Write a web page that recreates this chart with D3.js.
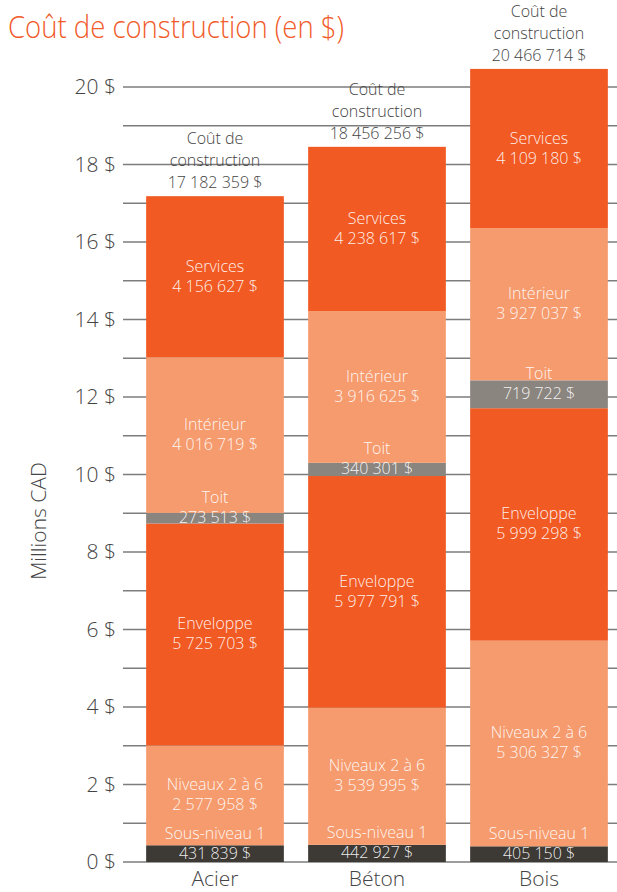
<!DOCTYPE html>
<html>
<head>
<meta charset="utf-8">
<script src="https://cdn.jsdelivr.net/npm/d3@7"></script>
<style>
  html, body { margin: 0; padding: 0; background: #fff; }
  svg { display: block; font-family: "Open Sans", "Noto Sans", sans-serif; }
  .seg-label { fill: #fff; fill-opacity: 0.92; font-size: 16px; font-weight: 300; }
  .top-label { fill: #444; font-size: 16px; font-weight: 300; }
  .tick-label { fill: #444; font-size: 21px; font-weight: 300; }
</style>
</head>
<body>
<div id="chart" style="width:617px;height:892px"></div>
<script>
// Data
const categories = ['Acier', 'Béton', 'Bois'];
const components = ['Sous-niveau 1', 'Niveaux 2 à 6', 'Enveloppe', 'Toit', 'Intérieur', 'Services'];
const acier = [431839, 2577958, 5725703, 273513, 4016719, 4156627];
const beton = [442927, 3539995, 5977791, 340301, 3916625, 4238617];
const bois = [405150, 5306327, 5999298, 719722, 3927037, 4109180];
const totals = [17182359, 18456256, 20466714];
const yTicks = [0, 2, 4, 6, 8, 10, 12, 14, 16, 18, 20];
const gridValues = d3.range(0, 21);
const compColors = ['#3d3935', '#f69b6e', '#f15a22', '#8b8580', '#f69b6e', '#f15a22'];

const values = [acier, beton, bois];
const fmt = n => d3.format(',')(n).replace(/,/g, ' ') + ' $';

const svg = d3.select('#chart').append('svg')
    .attr('width', 617)
    .attr('height', 892);

// Scales
const x = d3.scaleBand()
    .domain(categories)
    .range([134, 620])
    .paddingInner(0.15)
    .paddingOuter(0.075);
const y = d3.scaleLinear()
    .domain([0, 20])
    .range([862, 87]);
const col = d3.scaleOrdinal()
    .domain(components)
    .range(compColors);

// Title
svg.append('text')
    .attr('x', 8)
    .attr('y', 38)
    .attr('fill', '#f15a29')
    .attr('font-size', 31)
    .attr('font-weight', 300)
    .attr('textLength', 336)
    .attr('lengthAdjust', 'spacingAndGlyphs')
    .text('Coût de construction (en $)');

// Grid lines
svg.append('g')
  .selectAll('line')
  .data(gridValues)
  .join('line')
    .attr('x1', 123)
    .attr('x2', 617)
    .attr('y1', d => y(d))
    .attr('y2', d => y(d))
    .attr('stroke', '#7d7d7d')
    .attr('stroke-width', 1.5);

// Y axis labels
svg.append('g')
  .selectAll('text')
  .data(yTicks)
  .join('text')
    .attr('class', 'tick-label')
    .attr('x', 116)
    .attr('y', d => y(d))
    .attr('dy', '0.35em')
    .attr('text-anchor', 'end')
    .text(d => d + ' $');

svg.append('text')
    .attr('class', 'tick-label')
    .attr('font-size', 19)
    .attr('text-anchor', 'middle')
    .attr('transform', `translate(46, ${y(8.8)}) rotate(-90)`)
    .text('Millions CAD');

// Stacked bars
const stackData = categories.map((c, i) => {
  const row = {cat: c};
  components.forEach((k, j) => row[k] = values[i][j] / 1e6);
  return row;
});
const series = d3.stack().keys(components)(stackData);

const layers = svg.append('g')
  .selectAll('g')
  .data(series)
  .join('g')
    .attr('fill', d => col(d.key));

layers.selectAll('rect')
  .data(d => d.map(p => ({key: d.key, p})))
  .join('rect')
    .attr('x', d => x(d.p.data.cat))
    .attr('width', x.bandwidth())
    .attr('y', d => y(d.p[1]))
    .attr('height', d => y(d.p[0]) - y(d.p[1]));

// Segment labels
const labels = svg.append('g');
series.forEach(s => {
  s.forEach((p, i) => {
    const top = y(p[1]), bot = y(p[0]);
    const mid = (top + bot) / 2;
    const h = bot - top;
    const cx = x(p.data.cat) + x.bandwidth() / 2;
    // thin segments: value centred, name sits just above
    const valY = h < 30 ? mid + 5 : mid + 15;
    const t = labels.append('text')
        .attr('class', 'seg-label')
        .attr('text-anchor', 'middle')
        .attr('x', cx);
    t.append('tspan').attr('x', cx).attr('y', valY - 20).text(s.key);
    t.append('tspan').attr('x', cx).attr('y', valY).text(fmt(values[i][components.indexOf(s.key)]));
  });
});

// Total labels above bars
const topG = svg.append('g')
  .selectAll('text')
  .data(categories)
  .join('text')
    .attr('class', 'top-label')
    .attr('text-anchor', 'middle');
topG.each(function(c, i) {
  const cx = x(c) + x.bandwidth() / 2;
  const base = y(totals[i] / 1e6) - 8;
  const t = d3.select(this);
  t.append('tspan').attr('x', cx).attr('y', base - 44).text('Coût de');
  t.append('tspan').attr('x', cx).attr('y', base - 22).text('construction');
  t.append('tspan').attr('x', cx).attr('y', base).text(fmt(totals[i]));
});

// Category labels
svg.append('g')
  .selectAll('text')
  .data(categories)
  .join('text')
    .attr('class', 'tick-label')
    .attr('x', d => x(d) + x.bandwidth() / 2)
    .attr('y', 886)
    .attr('text-anchor', 'middle')
    .text(d => d);
</script>
</body>
</html>
